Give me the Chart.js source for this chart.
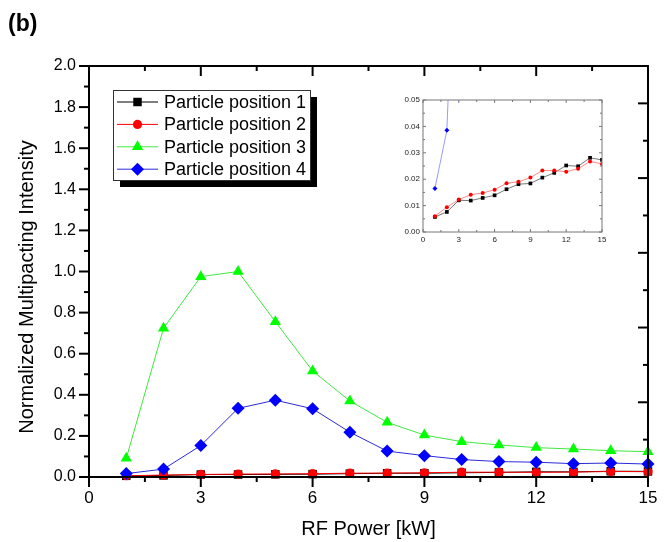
<!DOCTYPE html>
<html>
<head>
<meta charset="utf-8">
<script src="https://cdn.jsdelivr.net/npm/chart.js@4.4.1/dist/chart.umd.min.js"></script>
<style>
  html, body { margin: 0; padding: 0; background: #fff; }
  #wrap { position: relative; width: 672px; height: 542px; }
  #main { position: absolute; left: 0; top: 0; }
  #inset { position: absolute; left: 395px; top: 88px; }
  #tag { position: absolute; left: 8px; top: 10px; font: bold 23px "Liberation Sans", Arial, sans-serif; }
</style>
</head>
<body>
<div id="wrap">
  <canvas id="main" width="672" height="542"></canvas>
  <canvas id="inset" width="215" height="165"></canvas>
  <div id="tag">(b)</div>
</div>
<script>
// RF power [kW]
const power = [1, 2, 3, 4, 5, 6, 7, 8, 9, 10, 11, 12, 13, 14, 15]
const pos1 = [0.0057, 0.0076, 0.0120, 0.0119, 0.0129, 0.0139, 0.0162, 0.0181, 0.0184, 0.0206, 0.0224, 0.0252, 0.0249, 0.0281, 0.0273]
const pos2 = [0.0060, 0.0094, 0.0123, 0.0141, 0.0148, 0.0160, 0.0185, 0.0190, 0.0206, 0.0233, 0.0233, 0.0228, 0.0240, 0.0267, 0.0258]
const pos3 = [0.091, 0.724, 0.975, 1.000, 0.756, 0.516, 0.370, 0.266, 0.204, 0.172, 0.156, 0.143, 0.136, 0.128, 0.123]
const pos4 = [0.0165, 0.0385, 0.153, 0.334, 0.374, 0.332, 0.218, 0.126, 0.104, 0.085, 0.075, 0.072, 0.065, 0.068, 0.063]
const names = ['Particle position 1', 'Particle position 2', 'Particle position 3', 'Particle position 4']

const xLabels = [0, 3, 6, 9, 12, 15]
const yLabels = ['0.0', '0.2', '0.4', '0.6', '0.8', '1.0', '1.2', '1.4', '1.6', '1.8', '2.0']
const insetXLabels = [0, 3, 6, 9, 12, 15]
const insetYLabels = ['0.00', '0.01', '0.02', '0.03', '0.04', '0.05']
const xTitle = 'RF Power [kW]'
const yTitle = 'Normalized Multipacting Intensity'

const FONT = '"Liberation Sans", Arial, sans-serif'

const pts = arr => power.map((p, i) => ({ x: p, y: arr[i] }))

// small marker drawer (legend)
function marker(ctx, style, x, y, r) {
  ctx.beginPath()
  if (style === 'rect') {
    const s = r * Math.SQRT1_2
    ctx.rect(x - s, y - s, 2 * s, 2 * s)
  } else if (style === 'circle') {
    ctx.arc(x, y, r, 0, Math.PI * 2)
  } else if (style === 'triangle') {
    ctx.moveTo(x, y - r)
    ctx.lineTo(x + r * 0.866, y + r * 0.5)
    ctx.lineTo(x - r * 0.866, y + r * 0.5)
    ctx.closePath()
  } else {
    ctx.moveTo(x - r, y); ctx.lineTo(x, y - r); ctx.lineTo(x + r, y); ctx.lineTo(x, y + r)
    ctx.closePath()
  }
  ctx.fill()
}

// frame + tick marks drawn from the scales
function makeFrame(cfg) {
  return {
    id: 'frame',
    afterDatasetsDraw(chart) {
      const { ctx, chartArea: a, scales } = chart
      ctx.save()
      ctx.strokeStyle = cfg.color
      ctx.lineWidth = cfg.width
      ctx.strokeRect(a.left, a.top, a.right - a.left, a.bottom - a.top)
      ctx.lineWidth = cfg.tickWidth
      cfg.sides.forEach(side => {
        const sc = scales[side.scale]
        const n = Math.round((sc.max - sc.min) / side.step)
        for (let i = 0; i <= n; i++) {
          const v = sc.min + i * side.step
          const k = v / side.major
          const len = Math.abs(k - Math.round(k)) < 1e-6 ? cfg.majorLen : cfg.minorLen
          const p = sc.getPixelForValue(v)
          ctx.beginPath()
          if (side.edge === 'bottom') { ctx.moveTo(p, a.bottom); ctx.lineTo(p, a.bottom + side.dir * len) }
          if (side.edge === 'top') { ctx.moveTo(p, a.top); ctx.lineTo(p, a.top + side.dir * len) }
          if (side.edge === 'left') { ctx.moveTo(a.left, p); ctx.lineTo(a.left + side.dir * len, p) }
          if (side.edge === 'right') { ctx.moveTo(a.right, p); ctx.lineTo(a.right + side.dir * len, p) }
          ctx.stroke()
        }
      })
      ctx.restore()
    }
  }
}

// y title sits a bit below the middle of the axis in the original
const yTitlePlugin = {
  id: 'yTitle',
  afterDraw(chart) {
    const ctx = chart.ctx
    ctx.save()
    ctx.translate(27, 287)
    ctx.rotate(-Math.PI / 2)
    ctx.font = '20px ' + FONT
    ctx.fillStyle = '#000'
    ctx.textAlign = 'center'
    ctx.textBaseline = 'middle'
    ctx.fillText(yTitle, 0, 0)
    ctx.restore()
  }
}

const legendBox = {
  id: 'legendBox',
  afterDraw(chart) {
    const ctx = chart.ctx
    const x = 113, y = 90, w = 197, h = 90, sh = 7
    ctx.save()
    ctx.fillStyle = '#000'
    ctx.fillRect(x + sh, y + sh, w, h)
    ctx.fillStyle = '#fff'
    ctx.fillRect(x, y, w, h)
    ctx.strokeStyle = '#333'
    ctx.lineWidth = 1
    ctx.strokeRect(x + 0.5, y + 0.5, w, h)
    ctx.font = '18px ' + FONT
    ctx.textBaseline = 'middle'
    chart.data.datasets.forEach((ds, i) => {
      const cy = y + 12 + i * 22.4
      ctx.strokeStyle = ds.borderColor
      ctx.beginPath(); ctx.moveTo(x + 4, cy); ctx.lineTo(x + 45, cy); ctx.stroke()
      ctx.fillStyle = ds.pointBackgroundColor
      marker(ctx, ds.pointStyle, x + 24.5, cy, ds.pointRadius)
      ctx.fillStyle = '#000'
      ctx.fillText(ds.label, x + 51, cy + 1)
    })
    ctx.restore()
  }
}

const styles = [
  { line: '#000000', fill: '#000000', shape: 'rect', r: 6, ir: 2.6, iline: '#555555' },
  { line: '#ff0000', fill: '#ff0000', shape: 'circle', r: 4.6, ir: 2, iline: '#ff6a6a' },
  { line: '#3fe83f', fill: '#00ff00', shape: 'triangle', r: 6.5, ir: 2.5, iline: '#88ff88' },
  { line: '#2a2ad8', fill: '#0000ff', shape: 'rectRot', r: 6.5, ir: 2.5, iline: '#8080ff' }
]
const series = [pos1, pos2, pos3, pos4]
const orders = [4, 3, 2, 1]

new Chart(document.getElementById('main'), {
  type: 'line',
  data: {
    datasets: series.map((s, i) => ({
      label: names[i],
      data: pts(s),
      borderColor: styles[i].line,
      borderWidth: 1,
      pointBackgroundColor: styles[i].fill,
      pointBorderWidth: 0,
      pointStyle: styles[i].shape,
      pointRadius: styles[i].r,
      order: orders[i],
      clip: false
    }))
  },
  options: {
    responsive: false,
    animation: false,
    layout: { padding: { top: 66, right: 24, left: 0, bottom: 0 } },
    plugins: { legend: { display: false }, tooltip: { enabled: false } },
    elements: { line: { tension: 0 } },
    scales: {
      x: {
        type: 'linear', position: 'bottom', min: 0, max: 15,
        grid: { display: false, drawTicks: false }, border: { display: false },
        ticks: {
          stepSize: 1.5, autoSkip: false, maxRotation: 0, padding: 11, color: '#000',
          font: { family: FONT, size: 17 },
          callback: v => xLabels.includes(v) ? String(v) : ''
        },
        title: { display: true, text: xTitle, color: '#000', font: { family: FONT, size: 20 }, padding: { top: 0, bottom: 1 } },
        afterFit: s => { s.height = 65 }
      },
      y: {
        type: 'linear', position: 'left', min: 0, max: 2,
        grid: { display: false, drawTicks: false }, border: { display: false },
        ticks: {
          stepSize: 0.1, autoSkip: false, padding: 13, color: '#000',
          font: { family: FONT, size: 16 },
          callback: v => { const t = v.toFixed(1); return yLabels.includes(t) ? t : '' }
        },
        afterFit: s => { s.width = 89 }
      },
      y2: { type: 'linear', position: 'right', display: false, min: 0, max: 1.1 }
    }
  },
  plugins: [
    makeFrame({
      color: '#000', width: 2, tickWidth: 2, majorLen: 10, minorLen: 5,
      sides: [
        { scale: 'x', edge: 'bottom', dir: 1, step: 1.5, major: 3 },
        { scale: 'x', edge: 'top', dir: 1, step: 1.5, major: 3 },
        { scale: 'y', edge: 'left', dir: -1, step: 0.1, major: 0.2 },
        { scale: 'y2', edge: 'right', dir: -1, step: 0.1, major: 0.2 }
      ]
    }),
    yTitlePlugin,
    legendBox
  ]
})

// inset: zoom on the low-intensity range
new Chart(document.getElementById('inset'), {
  type: 'line',
  data: {
    datasets: series.map((s, i) => ({
      label: names[i],
      data: pts(s),
      borderColor: styles[i].iline,
      borderWidth: 0.8,
      pointBackgroundColor: styles[i].fill,
      pointBorderWidth: 0,
      pointStyle: styles[i].shape,
      pointRadius: styles[i].ir,
      order: orders[i]
    }))
  },
  options: {
    responsive: false,
    animation: false,
    layout: { padding: { top: 12, right: 8, left: 0, bottom: 0 } },
    plugins: { legend: { display: false }, tooltip: { enabled: false } },
    elements: { line: { tension: 0 } },
    scales: {
      x: {
        type: 'linear', min: 0, max: 15,
        grid: { display: false, drawTicks: false }, border: { display: false },
        ticks: {
          stepSize: 1.5, autoSkip: false, maxRotation: 0, padding: 3, color: '#222',
          font: { family: FONT, size: 8 },
          callback: v => insetXLabels.includes(v) ? String(v) : ''
        },
        afterFit: s => { s.height = 21 }
      },
      y: {
        type: 'linear', min: 0, max: 0.05,
        grid: { display: false, drawTicks: false }, border: { display: false },
        ticks: {
          stepSize: 0.005, autoSkip: false, padding: 3, color: '#222',
          font: { family: FONT, size: 8 },
          callback: v => { const t = v.toFixed(2); return Math.abs(v * 100 - Math.round(v * 100)) < 1e-6 && insetYLabels.includes(t) ? t : '' }
        },
        afterFit: s => { s.width = 28 }
      }
    }
  },
  plugins: [
    makeFrame({
      color: '#777', width: 1, tickWidth: 1, majorLen: 3, minorLen: 2,
      sides: [
        { scale: 'x', edge: 'bottom', dir: -1, step: 1.5, major: 3 },
        { scale: 'x', edge: 'top', dir: 1, step: 1.5, major: 3 },
        { scale: 'y', edge: 'left', dir: 1, step: 0.005, major: 0.01 },
        { scale: 'y', edge: 'right', dir: -1, step: 0.005, major: 0.01 }
      ]
    })
  ]
})
</script>
</body>
</html>
